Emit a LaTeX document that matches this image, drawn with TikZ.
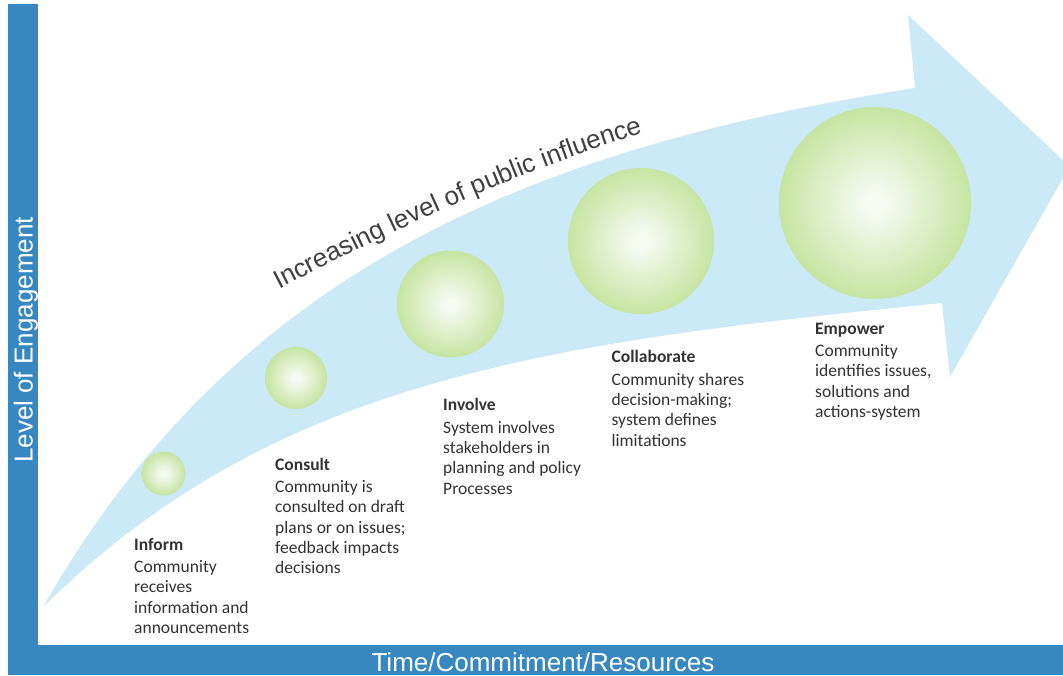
\documentclass[tikz,border=0pt]{standalone}
\usepackage{fontspec}
\setmainfont{Carlito}
\newfontfamily\arialf{Liberation Sans}
\usetikzlibrary{decorations.text}
\definecolor{barblue}{RGB}{55,136,192}
\definecolor{arrowblue}{RGB}{203,233,246}
\definecolor{tgray}{RGB}{51,51,51}
\definecolor{curvegray}{RGB}{64,64,64}
\definecolor{gin}{RGB}{246,250,241}
\definecolor{gmid}{RGB}{200,230,165}
\definecolor{gout}{RGB}{166,215,115}
\pgfdeclareradialshading{greenball}{\pgfpoint{0bp}{0bp}}{color(0bp)=(gin); color(3bp)=(gin); color(24bp)=(gmid); color(42bp)=(gout); color(50bp)=(gout)}
\begin{document}
\begin{tikzpicture}[x=1pt,y=-1pt,
  ball/.style={circle, inner sep=0pt, shade, shading=greenball},
  stage/.style={anchor=north west, inner sep=0pt, align=left, text=tgray, font=\fontsize{17.5}{20.3}\selectfont},
  axislabel/.style={anchor=base, inner sep=0pt, text=white, font=\arialf\fontsize{26}{26}\selectfont}]
\useasboundingbox (0,0) rectangle (1063,675);
\fill[white] (0,0) rectangle (1063,675);
% big arrow
\fill[arrowblue] (43,607) .. controls (230,280) and (515,150) .. (915,88)
  -- (908,15) -- (1063,160) -- (1063,178) -- (950,377) -- (942,303)
  .. controls (542,343) and (273,380) .. (43,607) -- cycle;
% frame bars
\fill[barblue] (8,4) rectangle (38,675);
\fill[barblue] (8,645) rectangle (1063,675);
\node[axislabel, rotate=90] (ylab) at (32.5,340) {Level of Engagement};
\node[axislabel] (xlab) at (543,671) {Time/Commitment/Resources};
% curved title
\path[decorate, decoration={text along path,
  text={|\arialf\fontsize{26}{26}\selectfont\color{curvegray}|Increasing level of public influence}}]
  (279,289) .. controls (410,222) and (540,160) .. (700,116);
% circles
\node[ball, minimum size=44pt] (inform) at (163.5,473.5) {};
\node[ball, minimum size=62pt] (consult) at (296,378) {};
\node[ball, minimum size=107pt] (involve) at (450.5,304) {};
\node[ball, minimum size=146pt] (collab) at (641,241) {};
\node[ball, minimum size=192pt] (empower) at (875,203) {};
% labels
\node[stage] (tinform) at (134,535.8) {\strut\textbf{Inform}\\[2pt]Community\\receives\\information and\\announcements};
\node[stage] (tconsult) at (275,455.8) {\strut\textbf{Consult}\\[2pt]Community is\\consulted on draft\\plans or on issues;\\feedback impacts\\decisions};
\node[stage] (tinvolve) at (443,396.5) {\strut\textbf{Involve}\\[2pt]System involves\\stakeholders in\\planning and policy\\Processes};
\node[stage] (tcollab) at (611.5,348.5) {\strut\textbf{Collaborate}\\[2pt]Community shares\\decision-making;\\system defines\\limitations};
\node[stage] (tempower) at (815,319.8) {\strut\textbf{Empower}\\[2pt]Community\\identifies issues,\\solutions and\\actions-system};
\end{tikzpicture}
\end{document}
